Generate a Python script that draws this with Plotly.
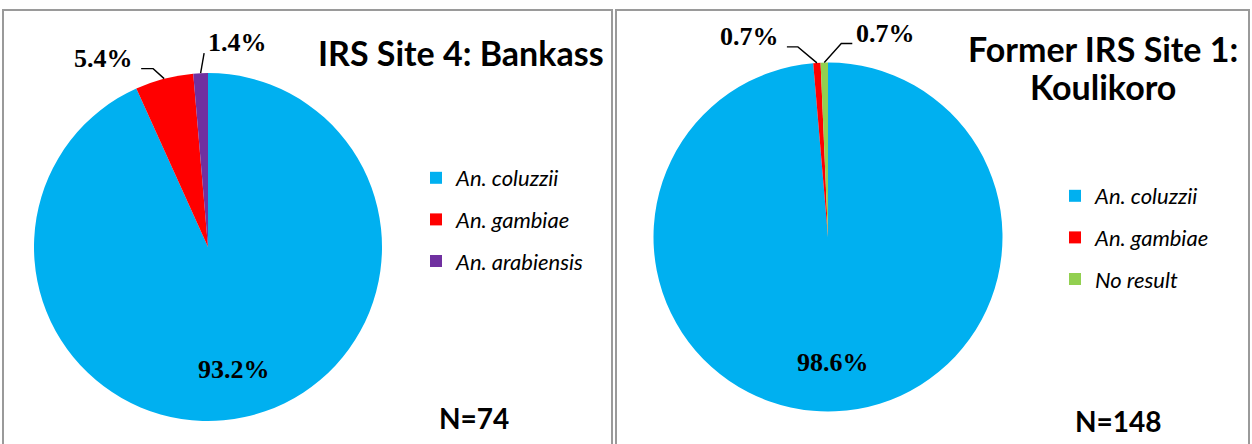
import math
import plotly.graph_objects as go

W, H = 1252, 444

# ---- data ----
BANKASS_LABELS = ["An. coluzzii", "An. gambiae", "An. arabiensis"]
BANKASS_COUNTS = [69, 4, 1]
KOULIKORO_LABELS = ["An. coluzzii", "An. gambiae", "No result"]
KOULIKORO_COUNTS = [146, 1, 1]

BANKASS_COLORS = ["#00B0F0", "#FF0000", "#7030A0"]
KOULIKORO_COLORS = ["#00B0F0", "#FF0000", "#92D050"]

SERIF = "Liberation Serif"
SANS = "Lato"
PCT_SIZE = 26


def px(x):
    return x / W


def py(y):
    return 1 - y / H


def slice_angles(counts):
    total = sum(counts)
    out, cum = [], 0.0
    for c in counts:
        a0 = cum / total * 360
        cum += c
        a1 = cum / total * 360
        out.append((a0, a1, c / total * 100))
    return out


def edge_point(cx, cy, r, ang, k=1.0):
    t = math.radians(ang)
    return cx + k * r * math.sin(t), cy - k * r * math.cos(t)


def note(x, y, text, **kw):
    # explicit anchors: 'auto' would snap paper annotations to edges
    d = dict(x=px(x), y=py(y), xref="paper", yref="paper", text=text,
             showarrow=False, xanchor="center", yanchor="middle")
    d.update(kw)
    return d


fig = go.Figure()
annotations, shapes = [], []

pct_font = dict(family=SERIF, size=PCT_SIZE, color="black", weight="bold")

panels = [
    dict(labels=BANKASS_LABELS, counts=BANKASS_COUNTS, colors=BANKASS_COLORS,
         cx=208, cy=247, r=174, legend="legend",
         # leader styling for small slices: (dx, dy) to elbow, horizontal run
         leaders={1: (-11, -10, -12), 2: (3.5, -20, 0)}),
    dict(labels=KOULIKORO_LABELS, counts=KOULIKORO_COUNTS, colors=KOULIKORO_COLORS,
         cx=828, cy=237, r=174.5, legend="legend2",
         leaders={1: (-19, -16, -11), 2: (17, -19, 11)}),
]

for p in panels:
    cx, cy, r = p["cx"], p["cy"], p["r"]
    fig.add_trace(go.Pie(
        labels=p["labels"], values=p["counts"],
        marker=dict(colors=p["colors"], line=dict(width=0)),
        sort=False, direction="clockwise", rotation=0,
        textinfo="none", hoverinfo="label+percent", showlegend=False,
        domain=dict(x=[px(cx - r), px(cx + r)], y=[py(cy + r), py(cy - r)]),
    ))
    for i, (a0, a1, pct) in enumerate(slice_angles(p["counts"])):
        mid = (a0 + a1) / 2
        txt = f"{pct:.1f}%"
        if i not in p["leaders"]:
            x, y = edge_point(cx, cy, r, mid, 0.72)
            annotations.append(note(x, y, txt, font=pct_font))
            continue
        dx, dy, run = p["leaders"][i]
        x0, y0 = edge_point(cx, cy, r, mid)
        x1, y1 = x0 + dx, y0 + dy
        x2 = x1 + run
        shapes.append(dict(type="path", xref="paper", yref="paper",
                           path=f"M {px(x0)},{py(y0)} L {px(x1)},{py(y1)} L {px(x2)},{py(y1)}",
                           line=dict(color="black", width=1.4)))
        left = (run > 0) or (run == 0 and dx > 0)
        annotations.append(note(x2 + (2 if left else -6), y1 + 6, txt,
                                xanchor="left" if left else "right", yanchor="bottom",
                                font=pct_font))
    # legend entries
    for lab, col in zip(p["labels"], p["colors"]):
        fig.add_trace(go.Scatter(
            x=[None], y=[None], mode="markers", name=lab,
            marker=dict(symbol="square", size=12, color=col),
            legend=p["legend"], legendgroup=p["legend"] + lab,
        ))

# panel frames
for x0, x1 in [(3, 612), (616, 1249)]:
    shapes.append(dict(type="rect", xref="paper", yref="paper",
                       x0=px(x0), x1=px(x1), y0=py(460), y1=py(10),
                       line=dict(color="#9a9a9a", width=2)))

title_font = dict(family=SANS, size=34, color="black", weight="bold")
n_font = dict(family=SANS, size=28, color="black", weight="bold")
annotations += [
    note(606, 52, "IRS Site 4: Bankass", xanchor="right", font=title_font),
    note(1103, 48, "Former IRS Site 1:", font=title_font),
    note(1103, 86, "Koulikoro", font=title_font),
    note(474, 418, "N=74", font=n_font),
    note(1118, 421, "N=148", font=n_font),
]

legend_common = dict(
    xanchor="left", yanchor="top", bgcolor="rgba(0,0,0,0)",
    font=dict(family=SANS, size=22, color="black", style="italic"),
    tracegroupgap=10, itemclick=False, itemdoubleclick=False,
)

fig.update_layout(
    width=W, height=H,
    margin=dict(l=0, r=0, t=0, b=0),
    paper_bgcolor="white", plot_bgcolor="white",
    xaxis=dict(visible=False), yaxis=dict(visible=False),
    shapes=shapes, annotations=annotations,
    legend=dict(x=px(416), y=py(157), **legend_common),
    legend2=dict(x=px(1055), y=py(175), **legend_common),
)

fig.write_html("out.html", config={"displayModeBar": False},
               post_script="document.body.style.margin='0';")
